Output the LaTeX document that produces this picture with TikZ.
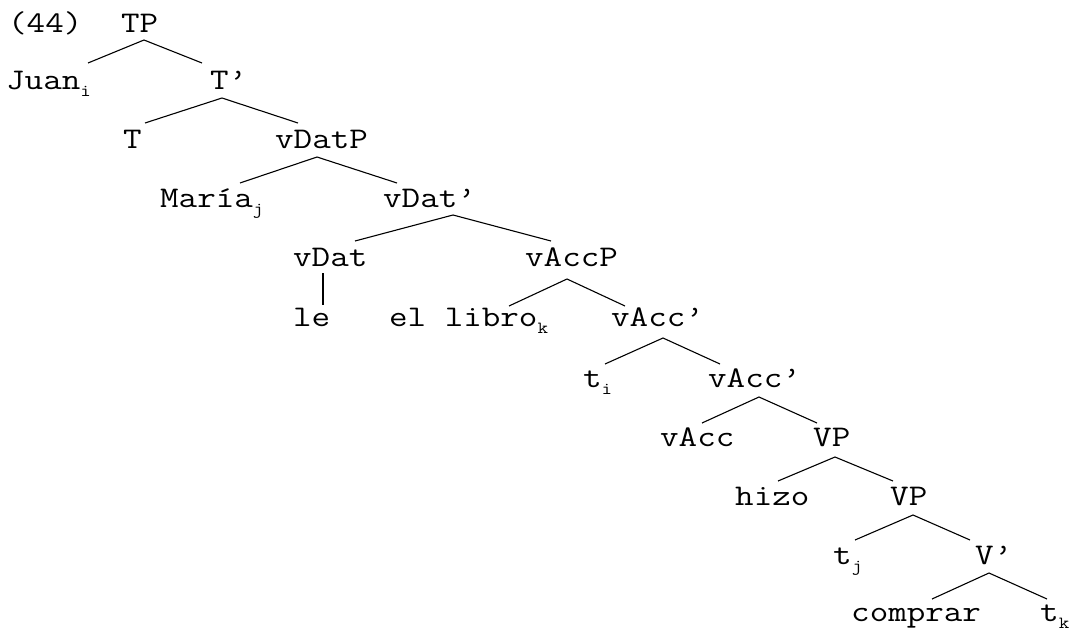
\documentclass[tikz,border=0pt]{standalone}
\usepackage{fontspec}
\setmonofont[FakeStretch=1.2]{Latin Modern Mono}
\newcommand\subidx[1]{\raisebox{-7pt}{\fontsize{17}{17}\selectfont #1}}
\begin{document}
\begin{tikzpicture}[x=1pt,y=-1pt,
  lab/.style={anchor=base west,inner sep=0pt,font=\ttfamily\fontsize{30}{36}\selectfont},
  branch/.style={line width=1.1pt}]
\useasboundingbox (0,0) rectangle (1073,629);
\node[lab] (ex) at (8,32) {(44)};
\node[lab] (TP) at (121,32) {TP};
\node[lab] (Juan) at (6,89) {Juan\subidx{i}};
\node[lab] (Tbar) at (210,89) {T’};
\node[lab] (T) at (123,148) {T};
\node[lab] (vDatP) at (275,148) {vDatP};
\node[lab] (Maria) at (160,207) {María\subidx{j}};
\node[lab] (vDatbar) at (383,207) {vDat’};
\node[lab] (vDat) at (293,266) {vDat};
\node[lab] (vAccP) at (525,266) {vAccP};
\node[lab] (le) at (293,326) {le};
\node[lab] (ellibro) at (389,326) {el libro\subidx{k}};
\node[lab] (vAccbar) at (611,326) {vAcc’};
\node[lab] (ti) at (583,387) {t\subidx{i}};
\node[lab] (vAccbarb) at (708,387) {vAcc’};
\node[lab] (vAcc) at (660,446) {vAcc};
\node[lab] (VP) at (813,446) {VP};
\node[lab] (hizo) at (735,505) {hizo};
\node[lab] (VPb) at (890,505) {VP};
\node[lab] (tj) at (833,564) {t\subidx{j}};
\node[lab] (Vbar) at (975,564) {V’};
\node[lab] (comprar) at (851,621) {comprar};
\node[lab] (tk) at (1040,621) {t\subidx{k}};

\draw[branch] ([shift={(82,-26)}]Juan.base west) -- ([shift={(23,8)}]TP.base west) -- ([shift={(-8,-26)}]Tbar.base west);
\draw[branch] ([shift={(22,-25)}]T.base west) -- ([shift={(12,9)}]Tbar.base west) -- ([shift={(23,-25)}]vDatP.base west);
\draw[branch] ([shift={(80,-24)}]Maria.base west) -- ([shift={(42,9)}]vDatP.base west) -- ([shift={(14,-24)}]vDatbar.base west);
\draw[branch] ([shift={(62,-25)}]vDat.base west) -- ([shift={(70,8)}]vDatbar.base west) -- ([shift={(26,-25)}]vAccP.base west);
\draw[branch] ([shift={(30,7)}]vDat.base west) -- ([shift={(30,-21)}]le.base west);
\draw[branch] ([shift={(120,-20)}]ellibro.base west) -- ([shift={(42,13)}]vAccP.base west) -- ([shift={(14,-20)}]vAccbar.base west);
\draw[branch] ([shift={(22,-23)}]ti.base west) -- ([shift={(52,12)}]vAccbar.base west) -- ([shift={(12,-23)}]vAccbarb.base west);
\draw[branch] ([shift={(42,-23)}]vAcc.base west) -- ([shift={(51,10)}]vAccbarb.base west) -- ([shift={(4,-23)}]VP.base west);
\draw[branch] ([shift={(43,-24)}]hizo.base west) -- ([shift={(22,11)}]VP.base west) -- ([shift={(3,-24)}]VPb.base west);
\draw[branch] ([shift={(22,-24)}]tj.base west) -- ([shift={(23,10)}]VPb.base west) -- ([shift={(-5,-24)}]Vbar.base west);
\draw[branch] ([shift={(81,-22)}]comprar.base west) -- ([shift={(14,9)}]Vbar.base west) -- ([shift={(7,-22)}]tk.base west);
\end{tikzpicture}
\end{document}
